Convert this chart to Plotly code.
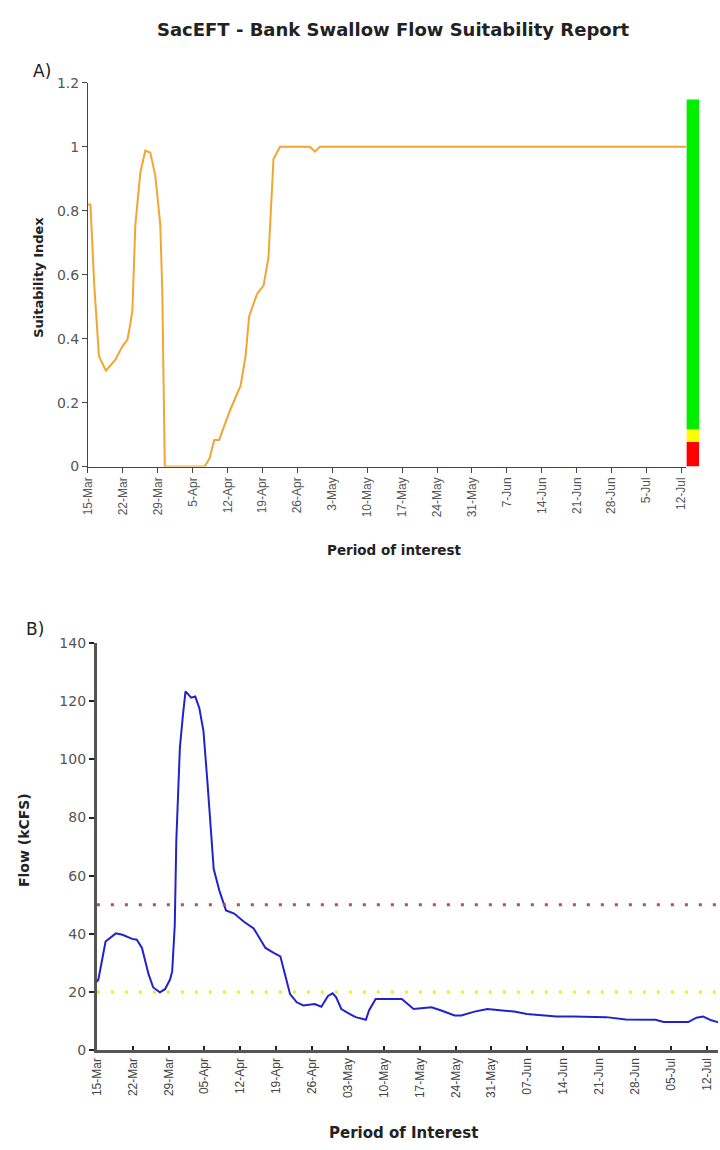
import pandas as pd
import plotly.graph_objects as go

START = pd.Timestamp("2010-03-15")

# Panel A - suitability index (day offset from 15-Mar, value)
suit_days = [0, 0.5, 1.25, 2.2, 3.6, 5.5, 6.9, 7.9, 8.5, 8.9, 9.5, 10.5, 11.5, 12.5, 13.5,
             14.5, 14.9, 15.3, 15.4, 23.4, 24.4, 25.3, 26.3, 27.6, 28.6, 30.6, 31.6, 32.3,
             33.9, 35.2, 36.2, 37.2, 38.5, 44.5, 45.5, 46.5, 120]
suit_vals = [0.82, 0.82, 0.57, 0.345, 0.30, 0.334, 0.376, 0.396, 0.447, 0.488, 0.756, 0.92,
             0.988, 0.982, 0.91, 0.756, 0.55, 0.19, 0.0, 0.0, 0.026, 0.083, 0.083, 0.139,
             0.18, 0.253, 0.345, 0.469, 0.54, 0.566, 0.654, 0.962, 1.0, 1.0, 0.985, 1.0, 1.0]

# suitability band bar (upper bound of each band)
band_names = ["Poor", "Fair", "Good"]
band_tops = [0.077, 0.117, 1.148]
band_colors = ["#ff0000", "#ffff00", "#00ee00"]

# Panel B - flow (kCFS)
flow_days = [0, 0.3, 1.1, 1.7, 3.7, 5.0, 6.9, 7.8, 8.8, 10.1, 11.0, 12.3, 13.3, 14.3, 14.7,
             15.2, 15.5, 16.2, 16.8, 17.3, 18.4, 19.2, 20.0, 20.8, 21.6, 22.3, 22.8, 23.9,
             25.2, 26.8, 28.7, 30.6, 32.9, 34.5, 35.8, 36.7, 37.7, 39.0, 40.3, 42.5, 43.8,
             45.1, 46.0, 46.7, 47.7, 49.3, 50.5, 52.5, 53.1, 54.4, 59.5, 61.8, 65.3, 67.2,
             69.8, 71.1, 73.7, 76.2, 78.8, 81.4, 83.9, 86.5, 89.7, 92.9, 99.4, 103.2, 109.0,
             110.6, 115.4, 117.0, 118.3, 119.9, 121.5]
flow_vals = [23.5, 24.4, 31.8, 37.4, 40.2, 39.7, 38.3, 38.0, 35.2, 26.1, 21.6, 19.9, 21.0,
             24.4, 27.2, 43.0, 72.0, 104.0, 115.4, 123.4, 121.2, 121.6, 117.6, 109.7, 91.6,
             75.9, 62.3, 54.9, 48.1, 47.0, 44.2, 41.9, 35.2, 33.5, 32.3, 26.1, 19.3, 16.5,
             15.4, 15.9, 15.0, 18.7, 19.6, 18.2, 14.2, 12.5, 11.4, 10.5, 13.7, 17.6, 17.6,
             14.2, 14.8, 13.7, 12.0, 12.0, 13.3, 14.2, 13.7, 13.3, 12.5, 12.2, 11.6, 11.6,
             11.4, 10.6, 10.5, 9.7, 9.7, 11.2, 11.6, 10.3, 9.5]

upper_threshold = 50
lower_threshold = 20

W, H = 720, 1150


def px_x(p):
    return p / W


def px_y(p):
    return 1 - p / H


def to_dates(days):
    return [START + pd.Timedelta(days=d) for d in days]


fig = go.Figure()

fig.add_trace(go.Scatter(x=to_dates(suit_days), y=suit_vals, mode="lines",
                         line=dict(color="#f2a530", width=2), xaxis="x", yaxis="y",
                         showlegend=False))

prev = 0
for name, top, col in zip(band_names, band_tops, band_colors):
    fig.add_trace(go.Bar(x=["band"], y=[top - prev], base=[prev], name=name,
                         marker=dict(color=col, line=dict(width=0)), width=1,
                         xaxis="x3", yaxis="y", showlegend=False))
    prev = top

fig.add_trace(go.Scatter(x=to_dates(flow_days), y=flow_vals, mode="lines",
                         line=dict(color="#2222cc", width=2), xaxis="x2", yaxis="y2",
                         showlegend=False))

flow_end = START + pd.Timedelta(days=121.2)
for lvl, col in [(upper_threshold, "#c84848"), (lower_threshold, "#f0f000")]:
    fig.add_trace(go.Scatter(x=[START, flow_end], y=[lvl, lvl], mode="lines",
                             line=dict(color=col, width=3, dash="3px,11px"),
                             xaxis="x2", yaxis="y2", showlegend=False))

tick_font = dict(family="Liberation Sans, Arial", size=12, color="#555555")
num_font = dict(family="DejaVu Sans", size=14, color="#555555")
fig.update_layout(
    width=W, height=H,
    margin=dict(l=0, r=0, t=0, b=0),
    plot_bgcolor="white", paper_bgcolor="white",
    barmode="overlay",
    xaxis=dict(domain=[px_x(82), px_x(688)], anchor="y", type="date",
               range=[START, START + pd.Timedelta(days=120)],
               tick0=START, dtick=7 * 86400000, tickformat="%-d-%b", tickangle=-90,
               ticks="outside", ticklen=5, tickcolor="#444", showgrid=False, zeroline=False,
               showline=True, linecolor="#444", linewidth=1, tickfont=tick_font),
    yaxis=dict(domain=[px_y(465), px_y(76)], anchor="x", range=[0, 1.2],
               tickvals=[0, 0.2, 0.4, 0.6, 0.8, 1, 1.2], ticktext=["0", "0.2", "0.4", "0.6", "0.8", "1", "1.2"],
               ticks="outside", ticklen=5, tickcolor="#444", showgrid=False, zeroline=False,
               showline=True, linecolor="#444", linewidth=1, tickfont=num_font),
    xaxis3=dict(domain=[px_x(688), px_x(701)], anchor="y", type="category",
                visible=False, showgrid=False),
    xaxis2=dict(domain=[px_x(91), 1], anchor="y2", type="date",
                range=[START, flow_end],
                tick0=START, dtick=7 * 86400000, tickformat="%d-%b", tickangle=-90,
                ticks="inside", ticklen=4, tickwidth=2, tickcolor="#222", showgrid=False,
                zeroline=False, showline=True, linecolor="#555", linewidth=3,
                tickfont=dict(family="Liberation Sans, Arial", size=12, color="#444444")),
    yaxis2=dict(domain=[px_y(1057), px_y(644)], anchor="x2", range=[0, 140], dtick=20,
                ticks="outside", ticklen=5, tickwidth=2, tickcolor="#222", showgrid=False,
                zeroline=False, showline=True, linecolor="#555", linewidth=3,
                tickfont=num_font),
)

texts = [
    ("<b>SacEFT - Bank Swallow Flow Suitability Report</b>", 391, 22, 18, 0),
    ("A)", 35, 64, 17, 0),
    ("<b>Suitability Index</b>", 32, 273, 13, -90),
    ("<b>Period of interest</b>", 392, 550, 13.5, 0),
    ("B)", 28, 630, 17, 0),
    ("<b>Flow (kCFS)</b>", 17, 844, 14, -90),
    ("<b>Period of Interest</b>", 402, 1141, 15, 0),
]
for txt, x, y, size, ang in texts:
    fig.add_annotation(text=txt, x=px_x(x), y=px_y(y), xref="paper", yref="paper",
                       showarrow=False, textangle=ang, xanchor="center", yanchor="middle",
                       font=dict(family="DejaVu Sans", size=size, color="#222222"))

# page margin off so the 720x1150 figure fills the window exactly
fig.write_html("out.html", config={"displayModeBar": False},
               post_script="document.body.style.margin='0';document.body.style.overflow='hidden';")
